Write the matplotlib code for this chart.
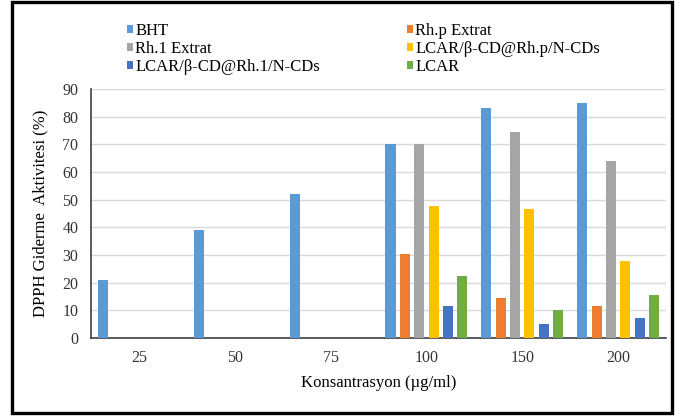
import matplotlib
matplotlib.use('Agg')
import matplotlib.pyplot as plt
from matplotlib.patches import Rectangle
import numpy as np

plt.rcParams['font.family'] = ['Liberation Serif', 'DejaVu Serif']

# concentrations (µg/ml) and DPPH scavenging (%)
concs = ['25', '50', '75', '100', '150', '200']
nan = np.nan
bht = [21, 39, 52, 70, 83, 85]
rhp_extrat = [nan, nan, nan, 30.5, 14.6, 11.6]
rh1_extrat = [nan, nan, nan, 70, 74.3, 64.1]
lcar_rhp = [nan, nan, nan, 47.7, 46.7, 27.9]
lcar_rh1 = [nan, nan, nan, 11.6, 5.2, 7.1]
lcar = [nan, nan, nan, 22.5, 10.2, 15.6]

names = ['BHT', 'Rh.p Extrat', 'Rh.1 Extrat', 'LCAR/β-CD@Rh.p/N-CDs',
         'LCAR/β-CD@Rh.1/N-CDs', 'LCAR']
colors = ['#5B9BD5', '#ED7D31', '#A5A5A5', '#FFC000', '#4472C4', '#70AD47']
series = [bht, rhp_extrat, rh1_extrat, lcar_rhp, lcar_rh1, lcar]

fig = plt.figure(figsize=(6.77, 4.16), dpi=100)
ax = fig.add_axes([0.1344, 0.1875, 0.8494, 0.5985])

x = np.arange(len(concs))
step = 0.15
width = 0.105
bars = []
for i, (vals, col) in enumerate(zip(series, colors)):
    b = ax.bar(x + (i - 2.5) * step, vals, width, color=col, zorder=3)
    bars.append(b)

ax.set_xlim(-0.5, len(concs) - 0.5)
ax.set_ylim(0, 90)
ax.set_yticks(range(0, 91, 10))
ax.set_xticks(x)
ax.set_xticklabels(concs)
ax.tick_params(axis='both', length=0, labelsize=11.5, colors='#333333')
ax.tick_params(axis='y', pad=9)
ax.tick_params(axis='x', pad=9)
ax.yaxis.grid(True, color='#D9D9D9', linewidth=1, zorder=0)
ax.set_axisbelow(True)
for s in ['top', 'right']:
    ax.spines[s].set_visible(False)
ax.spines['left'].set_color('#404040')
ax.spines['bottom'].set_color('#404040')
ax.spines['left'].set_linewidth(1.2)
ax.spines['bottom'].set_linewidth(1.2)

ax.set_ylabel('DPPH Giderme  Aktivitesi (%)', fontsize=12, labelpad=10)
ax.set_xlabel('Konsantrasyon (µg/ml)', fontsize=12, labelpad=6)

# row-major legend in two columns
order = [0, 2, 4, 1, 3, 5]
leg = fig.legend([bars[k] for k in order], [names[k] for k in order],
                 ncol=2, loc='upper left', bbox_to_anchor=(0.187, 0.945),
                 frameon=False, fontsize=12, handlelength=0.4,
                 handleheight=0.4, handletextpad=0.12, labelspacing=0.12,
                 columnspacing=5.2, borderaxespad=0, borderpad=0)

# outer frame
fig.patches.append(Rectangle((0.0175, 0.008), 0.975, 0.986, transform=fig.transFigure,
                             fill=False, edgecolor='black', linewidth=2.4))

fig.savefig('out.png', dpi=100)
